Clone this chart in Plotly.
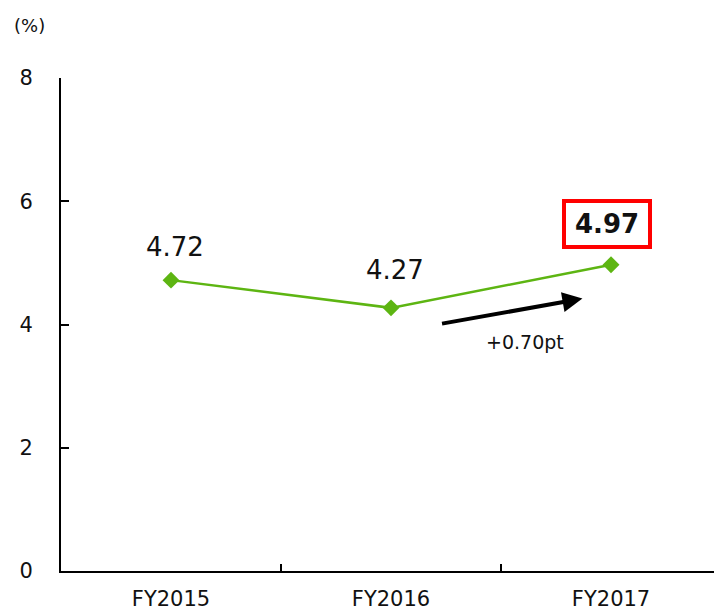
import plotly.graph_objects as go

# Fiscal-year ratio series
years = ["FY2015", "FY2016", "FY2017"]
ratios = [4.72, 4.27, 4.97]
y_ticks = [0, 2, 4, 6, 8]

GREEN = "#5db512"
FONT = "DejaVu Sans"

fig = go.Figure()

fig.add_trace(go.Scatter(
    x=years,
    y=ratios,
    mode="lines+markers",
    line=dict(color=GREEN, width=2.5),
    marker=dict(symbol="diamond", size=13, color=GREEN),
    hoverinfo="skip",
    showlegend=False,
))

# Value labels above each point
offsets = [33, 38]
for yr, v, off in zip(years[:2], ratios[:2], offsets):
    fig.add_annotation(
        x=yr, y=v, text=f"{v:.2f}", showarrow=False,
        yshift=off, xshift=4,
        font=dict(family=FONT, size=26, color="#111111"),
    )

# Highlighted latest value in a red frame
fig.add_annotation(
    x=years[2], y=ratios[2], text=f"<b>{ratios[2]:.2f}</b>", showarrow=False,
    yshift=41, xshift=-4,
    font=dict(family=FONT, size=26, color="#111111"),
    bordercolor="#ff0000", borderwidth=4, borderpad=3,
    bgcolor="white", width=76, height=36,
)

# Trend arrow with change label
fig.add_annotation(
    x=1.87, y=4.42, ax=1.225, ay=4.01,
    xref="x", yref="y", axref="x", ayref="y",
    text="", showarrow=True,
    arrowhead=2, arrowsize=1.0, arrowwidth=4, arrowcolor="black",
)
fig.add_annotation(
    x=1.61, y=3.72, text=f"+{ratios[2] - ratios[1]:.2f}pt", showarrow=False,
    font=dict(family=FONT, size=19, color="#111111"),
)

# Unit label
fig.add_annotation(
    xref="paper", yref="paper", x=-0.049, y=1.0, yshift=53,
    xanchor="center", yanchor="middle", text="(%)", showarrow=False,
    font=dict(family=FONT, size=18, color="#111111"),
)

fig.update_layout(
    width=714, height=614,
    margin=dict(l=61, r=0, t=78, b=43, autoexpand=False),
    paper_bgcolor="white", plot_bgcolor="white",
    font=dict(family=FONT, color="#111111"),
    xaxis=dict(
        type="category", range=[-0.5, 2.468], automargin=False,
        showgrid=False, zeroline=False,
        showline=True, linecolor="black", linewidth=2,
        ticks="inside", tickson="boundaries", ticklen=7, tickwidth=1.5, tickcolor="black",
        tickfont=dict(family=FONT, size=21, color="#111111"),
        ticklabelstandoff=8,
    ),
    yaxis=dict(
        range=[0, 8], tickvals=y_ticks, automargin=False,
        showgrid=False, zeroline=False,
        showline=True, linecolor="black", linewidth=2,
        ticks="inside", ticklen=8, tickwidth=1.5, tickcolor="black",
        tickfont=dict(family=FONT, size=21, color="#111111"),
        ticklabelstandoff=22,
    ),
)

fig.write_html("out.html")
